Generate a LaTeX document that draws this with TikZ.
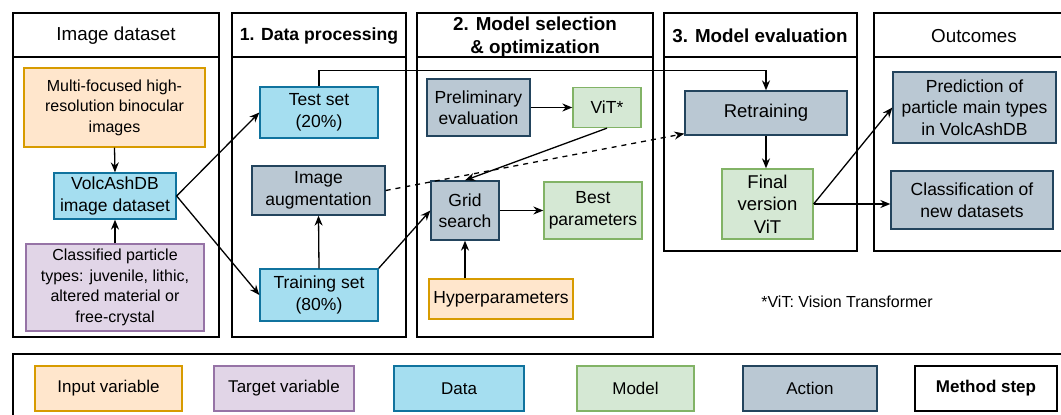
\documentclass[tikz,border=0pt]{standalone}
\usepackage{fontspec}
\setmainfont{Liberation Sans}
\usetikzlibrary{arrows.meta}
\definecolor{inFill}{HTML}{FFE6CC}\definecolor{inLine}{HTML}{D79B00}
\definecolor{tgFill}{HTML}{E1D5E7}\definecolor{tgLine}{HTML}{9673A6}
\definecolor{dtFill}{HTML}{A5DEF0}\definecolor{dtLine}{HTML}{10739E}
\definecolor{mdFill}{HTML}{D5E8D4}\definecolor{mdLine}{HTML}{82B366}
\definecolor{acFill}{HTML}{BAC8D3}\definecolor{acLine}{HTML}{23445D}
\begin{document}
\begin{tikzpicture}[x=1pt,y=-1pt,
		body/.style = {font=\fontsize{17.5}{21.5}\selectfont},
		small/.style = {font=\fontsize{16}{20.5}\selectfont},
		large/.style = {font=\fontsize{18.5}{22.5}\selectfont},
		box/.style = {body, draw, line width=1.3pt, align=center, inner sep=2pt},
		inbox/.style = {box, fill=inFill, draw=inLine},
		tgbox/.style = {box, fill=tgFill, draw=tgLine},
		dtbox/.style = {box, fill=dtFill, draw=dtLine},
		mdbox/.style = {box, fill=mdFill, draw=mdLine},
		acbox/.style = {box, fill=acFill, draw=acLine},
		stepbox/.style = {box, draw=black, fill=white},
		key/.style = {minimum height=45, font=\fontsize{17}{20.5}\selectfont},
		panel/.style = {draw=black, line width=1.3pt},
		header/.style = {font=\fontsize{18.8}{23}\selectfont, align=center, inner sep=0pt},
		arr/.style = {black, line width=1.3pt, -{Stealth[length=10pt,width=8pt]}},
		dasharr/.style = {arr, dashed, dash pattern=on 5pt off 5pt}]
		\useasboundingbox (0,0) rectangle (1061,415);
		%
		\draw[panel] (13,13) rectangle (219,337) (13,57) -- (219,57);
		\draw[panel] (232,13) rectangle (406,337) (232,57) -- (406,57);
		\draw[panel] (417,13) rectangle (653,337) (417,57) -- (653,57);
		\draw[panel] (664,13) rectangle (857,251) (664,57) -- (857,57);
		\draw[panel] (874,13) rectangle (1075,251) (874,57) -- (1075,57);
		\node[header] (hdata) at (116,36) {Image dataset};
		\node[header, font=\fontsize{17.6}{23}\selectfont\bfseries] (hproc) at (319,36) {1. Data processing};
		\node[header, font=\fontsize{18.8}{23}\selectfont\bfseries] (hmodel) at (535,37) {2. Model selection\\\& optimization};
		\node[header, font=\fontsize{18.8}{23}\selectfont\bfseries] (heval) at (760,36) {3. Model evaluation};
		\node[header] (hout) at (974,36) {Outcomes};
		%
		\node[inbox, small, minimum width=181, minimum height=79] (multi) at (114.5,107.5) {Multi-focused high-\\resolution binocular\\images};
		\node[dtbox, minimum width=122, minimum height=46] (volc) at (115,196) {VolcAshDB\\image dataset};
		\node[tgbox, small, minimum width=178, minimum height=87] (classif) at (115,287.5) {Classified particle\\types: juvenile, lithic,\\altered material or\\free-crystal};
		%
		\node[dtbox, minimum width=118, minimum height=51] (test) at (319,112.5) {Test set\\(20\%)};
		\node[acbox, minimum width=133, minimum height=49] (aug) at (318.5,190.5) {Image\\augmentation};
		\node[dtbox, minimum width=118, minimum height=52] (train) at (319,295) {Training set\\(80\%)};
		%
		\node[acbox, minimum width=103, minimum height=57] (prelim) at (478.5,107.5) {Preliminary\\evaluation};
		\node[mdbox, minimum width=68, minimum height=40] (vit) at (607,107.5) {ViT*};
		\node[acbox, minimum width=68, minimum height=59] (grid) at (465,210.5) {Grid\\search};
		\node[mdbox, minimum width=98, minimum height=57] (best) at (593,210.5) {Best\\parameters};
		\node[inbox, minimum width=144, minimum height=40] (hyper) at (501,299) {Hyperparameters};
		%
		\node[acbox, large, minimum width=162, minimum height=44] (retrain) at (766,113) {Retraining};
		\node[mdbox, large, minimum width=91, minimum height=70] (final) at (767.5,204) {Final\\version\\ViT};
		%
		\node[acbox, minimum width=163, minimum height=71] (pred) at (974.5,107.5) {Prediction of\\particle main types\\in VolcAshDB};
		\node[acbox, minimum width=162, minimum height=58] (classnew) at (972,200) {Classification of\\new datasets};
		%
		\node[small] (note) at (847,302) {*ViT: Vision Transformer};
		%
		\draw[arr] (multi.south) -- (volc.north);
		\draw[arr] (classif.north) -- (volc.south);
		\draw[arr] (volc.east) -- (test.west);
		\draw[arr] (volc.east) -- (train.west);
		\draw[arr] (train.north) -- (aug.south);
		\draw[arr] (test.north) -- ++(0,-16) -| (retrain.north);
		\draw[dasharr] (aug.east) -- ([yshift=2pt]retrain.south west);
		\draw[arr] (train.north east) -- (grid.west);
		\draw[arr] (prelim.east) -- (vit.west);
		\draw[arr] (vit.south) -- (grid.north);
		\draw[arr] (grid.east) -- (best.west);
		\draw[arr] (grid.south |- hyper.north) -- (grid.south);
		\draw[arr] (retrain.south) -- (retrain.south |- final.north);
		\draw[arr] (final.east) -- (pred.west);
		\draw[arr] (final.east) -- (final.east -| classnew.west);
		%
		\draw[panel] (13,354) rectangle (1075,430);
		\node[inbox, key, minimum width=147] (kin) at (108.5,388.5) {Input variable};
		\node[tgbox, key, minimum width=140] (ktg) at (284,388.5) {Target variable};
		\node[dtbox, key, minimum width=130] (kdt) at (459,388.5) {Data};
		\node[mdbox, key, minimum width=117] (kmd) at (635.5,388.5) {Model};
		\node[acbox, key, minimum width=134] (kac) at (810,388.5) {Action};
		\node[stepbox, key, font=\fontsize{17}{20.5}\selectfont\bfseries, minimum width=142] (kst) at (986,388.5) {Method step};
		%
	\end{tikzpicture}
\end{document}
